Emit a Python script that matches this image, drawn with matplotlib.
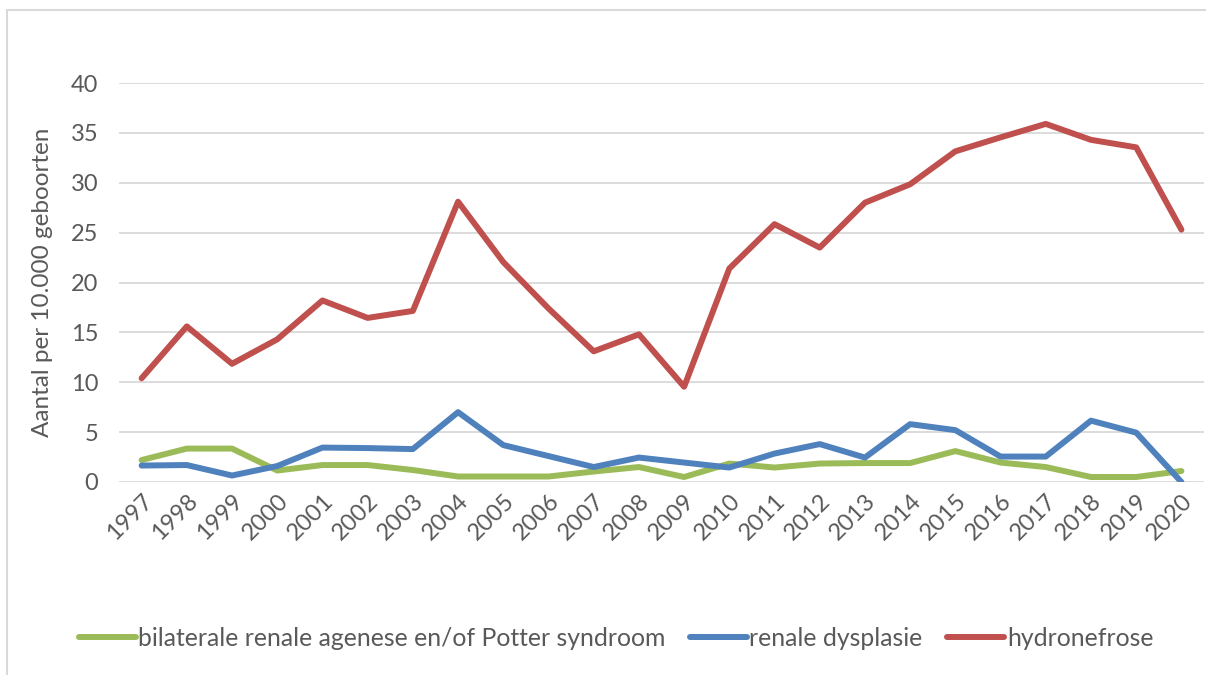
import numpy as np
import matplotlib.pyplot as plt
from matplotlib.patches import Rectangle

### data (per 10.000 births)
years = [str(y) for y in range(1997, 2021)]
agenese = [2.2, 3.35, 3.35, 1.15, 1.7, 1.7, 1.2, 0.55, 0.55, 0.55, 1.05, 1.5,
           0.5, 1.85, 1.45, 1.85, 1.9, 1.9, 3.1, 1.95, 1.5, 0.5, 0.5, 1.1]
dysplasie = [1.65, 1.7, 0.65, 1.6, 3.45, 3.4, 3.3, 7.0, 3.7, 2.6, 1.5, 2.45,
             1.95, 1.45, 2.85, 3.8, 2.45, 5.8, 5.2, 2.55, 2.55, 6.15, 4.95, 0.0]
hydronefrose = [10.4, 15.6, 11.85, 14.3, 18.2, 16.45, 17.15, 28.1, 22.05, 17.4,
                13.1, 14.8, 9.55, 21.4, 25.85, 23.5, 28.0, 29.85, 33.15, 34.55,
                35.9, 34.3, 33.55, 25.3]
series_names = ['bilaterale renale agenese en/of Potter syndroom',
                'renale dysplasie', 'hydronefrose']
yticks = [0, 5, 10, 15, 20, 25, 30, 35, 40]

plt.rcParams['font.family'] = ['Lato', 'DejaVu Sans']
txt = '#595959'

fig = plt.figure(figsize=(12.06, 6.75), dpi=100)
ax = fig.add_axes([119/1206, 1-482/675, (1204-119)/1206, (482-83)/675])

x = np.arange(len(years))
ax.plot(x, agenese, color='#9BBB59', lw=4.3, label=series_names[0], solid_capstyle='round')
ax.plot(x, dysplasie, color='#4F81BD', lw=4.3, label=series_names[1], solid_capstyle='round')
ax.plot(x, hydronefrose, color='#C0504D', lw=4.3, label=series_names[2], solid_capstyle='round')

ax.set_xlim(-0.5, len(years) - 0.5)
ax.set_ylim(0, 40)
ax.set_yticks(yticks)
ax.set_xticks(x)
ax.set_xticklabels(years, rotation=45, ha='right', rotation_mode='anchor')
ax.grid(axis='y', color='#D9D9D9', lw=1.3)
ax.set_axisbelow(True)
for s in ax.spines.values():
    s.set_visible(False)
ax.tick_params(axis='y', length=0, pad=15, labelsize=17, colors=txt)
ax.tick_params(axis='x', length=0, pad=6, labelsize=17, colors=txt)
ax.set_ylabel('Aantal per 10.000 geboorten', fontsize=17.5, color=txt)
ax.yaxis.set_label_coords(-66/1085, 0.5)

leg = fig.legend(loc='center', bbox_to_anchor=(0.5 + 13/1206, 1-638/675), ncol=3,
                 frameon=False, fontsize=17.8, handlelength=2.3, handletextpad=0.1,
                 columnspacing=1.0)
for t in leg.get_texts():
    t.set_color(txt)

# chart frame
fig.patches.append(Rectangle((7/1206, -0.1), 1.2, 1.1 - 10/675, transform=fig.transFigure,
                             fill=False, edgecolor='#D9D9D9', lw=1.5))

fig.savefig('out.png', dpi=100, facecolor='white')
